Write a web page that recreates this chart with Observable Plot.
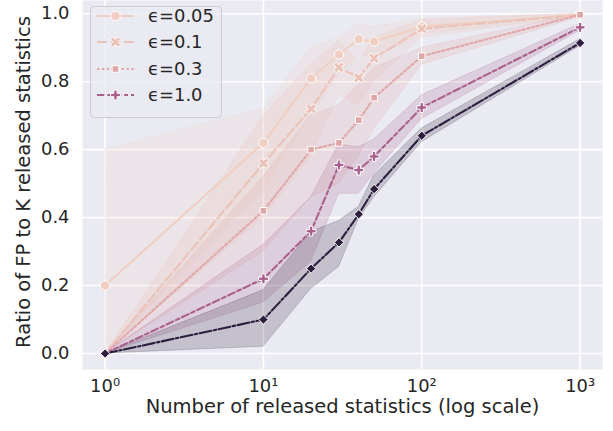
<!DOCTYPE html>
<html><head><meta charset="utf-8">
<script src="https://cdn.jsdelivr.net/npm/d3@7"></script>
<script src="https://cdn.jsdelivr.net/npm/@observablehq/plot@0.6"></script>
<style>
body{margin:0;background:#fff;font-family:"DejaVu Sans",sans-serif;}
#wrap{position:relative;width:613px;height:431px;}
#legend{position:absolute;left:90px;top:6px;width:132px;height:112px;box-sizing:border-box;border:1px solid #cccccc;border-radius:4px;background:rgba(234,234,242,0.8);}
#legend .row{position:absolute;left:0;height:26px;display:flex;align-items:center;}
#legend .row span{position:absolute;left:57px;font-size:17.9px;color:#262626;white-space:nowrap;line-height:26px;}
#legend svg{position:absolute;left:0;top:0;}
</style></head><body><div id="wrap"></div>
<script>
// ---- data ----
const xs = [1, 10, 20, 30, 40, 50, 100, 1000];
const seriesNames = ["ϵ=0.05", "ϵ=0.1", "ϵ=0.3", "ϵ=1.0", "baseline"];
const legendLabels = ["ϵ=0.05", "ϵ=0.1", "ϵ=0.3", "ϵ=1.0"];
const xTicks = [1, 10, 100, 1000];
const yTicks = [0, 0.2, 0.4, 0.6, 0.8, 1.0];

const mean005 = [0.20, 0.62, 0.81, 0.88, 0.925, 0.918, 0.962, 0.997];
const lo005   = [0.00, 0.48, 0.70, 0.82, 0.88, 0.87, 0.94, 0.99];
const hi005   = [0.60, 0.72, 0.90, 0.93, 0.97, 0.96, 0.985, 1.0];

const mean01 = [0.00, 0.56, 0.72, 0.842, 0.812, 0.869, 0.956, 0.997];
const lo01   = [0.00, 0.40, 0.58, 0.76, 0.73, 0.80, 0.93, 0.99];
const hi01   = [0.00, 0.70, 0.85, 0.92, 0.86, 0.93, 0.98, 1.0];

const mean03 = [0.00, 0.42, 0.60, 0.62, 0.687, 0.753, 0.875, 0.997];
const lo03   = [0.00, 0.30, 0.46, 0.50, 0.58, 0.66, 0.85, 0.99];
const hi03   = [0.00, 0.52, 0.70, 0.73, 0.79, 0.84, 0.90, 1.0];

const mean10 = [0.00, 0.22, 0.36, 0.555, 0.54, 0.58, 0.724, 0.96];
const lo10   = [0.00, 0.15, 0.27, 0.47, 0.47, 0.53, 0.69, 0.95];
const hi10   = [0.00, 0.32, 0.46, 0.615, 0.607, 0.63, 0.76, 0.97];

const meanB = [0.00, 0.10, 0.25, 0.327, 0.41, 0.484, 0.641, 0.914];
const loB   = [0.00, 0.02, 0.19, 0.255, 0.395, 0.46, 0.622, 0.905];
const hiB   = [0.00, 0.186, 0.358, 0.39, 0.431, 0.524, 0.662, 0.925];

// ---- styles ----
const colors = ["#F0CFC2", "#EBC2B8", "#E0A7A7", "#A9608C", "#2D1E3E"];
const dashes = [null, "9.8,3.7", "2.45,2.45", "7.3,3,3.7,3", "12,2.45,2.45,2.45"];

function poly(pts, k = 1) {
  return {draw(ctx, size) {
    const r = Math.sqrt(size / Math.PI) * k;
    pts.forEach(([a, b], i) => i ? ctx.lineTo(a * r, b * r) : ctx.moveTo(a * r, b * r));
    ctx.closePath();
  }};
}
const t = 1 / 3, c = Math.SQRT1_2;
const plusPts = [[-t,-1],[t,-1],[t,-t],[1,-t],[1,t],[t,t],[t,1],[-t,1],[-t,t],[-1,t],[-1,-t],[-t,-t]];
const xPts = plusPts.map(([a, b]) => [(a - b) * c, (a + b) * c]);
const symbols = [
  {draw(ctx, size) { const r = Math.sqrt(size / Math.PI); ctx.moveTo(r, 0); ctx.arc(0, 0, r, 0, 2 * Math.PI); }},
  poly(xPts, 1.2),
  poly([[-c,-c],[c,-c],[c,c],[-c,c]], 1),
  poly(plusPts, 1.05),
  poly([[0,-1],[1,0],[0,1],[-1,0]], 1)
];

const means = [mean005, mean01, mean03, mean10, meanB];
const los = [lo005, lo01, lo03, lo10, loB];
const his = [hi005, hi01, hi03, hi10, hiB];
const rows = seriesNames.map((s, k) => xs.map((x, i) => ({series: s, x, y: means[k][i], lo: los[k][i], hi: his[k][i]})));

const sup = {0: "⁰", 1: "¹", 2: "²", 3: "³"};

const marks = [
  Plot.frame({fill: "#EAEAF2", stroke: null}),
  Plot.gridX(xTicks, {stroke: "white", strokeOpacity: 1, strokeWidth: 1.6}),
  Plot.gridY(yTicks, {stroke: "white", strokeOpacity: 1, strokeWidth: 1.6}),
];
rows.forEach((d, k) => marks.push(Plot.areaY(d, {x: "x", y1: "lo", y2: "hi", fill: colors[k], fillOpacity: 0.2, stroke: colors[k], strokeOpacity: 0.2, strokeWidth: 1})));
rows.forEach((d, k) => {
  marks.push(Plot.line(d, {x: "x", y: "y", stroke: colors[k], strokeWidth: 2.1, strokeDasharray: dashes[k]}));
  marks.push(Plot.dot(d, {x: "x", y: "y", symbol: symbols[k], r: 4.7, fill: colors[k], stroke: "white", strokeWidth: 1}));
});
marks.push(
  Plot.axisX(xTicks, {tickSize: 0, tickPadding: 10, fontSize: 17.9, color: "#262626", label: null, tickFormat: d => "10" + sup[Math.round(Math.log10(d))]}),
  Plot.axisY(yTicks, {tickSize: 0, tickPadding: 13, fontSize: 17.9, color: "#262626", label: null, tickFormat: d3.format(".1f")}),
  Plot.text(["Number of released statistics (log scale)"], {text: d => d, frameAnchor: "bottom", dy: 43, fontSize: 19.5, fill: "#262626"}),
  Plot.text(["Ratio of FP to K released statistics"], {text: d => d, frameAnchor: "left", textAnchor: "middle", dx: -59, dy: -3, rotate: -90, fontSize: 19.5, fill: "#262626"})
);

const chart = Plot.plot({
  width: 613, height: 431,
  marginLeft: 82, marginRight: 11, marginTop: 0, marginBottom: 62,
  x: {type: "log", domain: [0.72, 1385]},
  y: {domain: [-0.047, 1.039]},
  style: {fontFamily: "DejaVu Sans", background: "transparent", overflow: "visible"},
  marks
});
const wrap = document.getElementById("wrap");
wrap.appendChild(chart);

// legend
const leg = document.createElement("div");
leg.id = "legend";
wrap.appendChild(leg);
legendLabels.forEach((lab, k) => {
  const row = document.createElement("div");
  row.className = "row";
  row.style.top = (15 + 26.4 * k - 13 - 6) + "px";
  row.style.width = "130px";
  const svg = d3.create("svg").attr("width", 56).attr("height", 26);
  svg.append("line").attr("x1", 6).attr("x2", 43).attr("y1", 13).attr("y2", 13)
    .attr("stroke", colors[k]).attr("stroke-width", 2.1).attr("stroke-dasharray", dashes[k]);
  const p = d3.path();
  symbols[k].draw(p, Math.PI * 4.7 * 4.7);
  svg.append("path").attr("d", p.toString()).attr("transform", "translate(24.5,13)")
    .attr("fill", colors[k]).attr("stroke", "white").attr("stroke-width", 1);
  row.appendChild(svg.node());
  const sp = document.createElement("span");
  sp.textContent = lab;
  row.appendChild(sp);
  leg.appendChild(row);
});
</script></body></html>
